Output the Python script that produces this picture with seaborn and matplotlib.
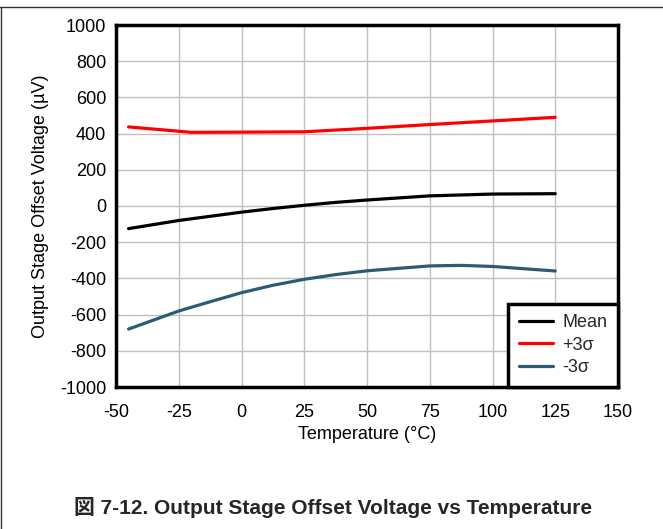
import matplotlib
matplotlib.use("Agg")
import matplotlib.pyplot as plt
import seaborn as sns
import pandas as pd
from matplotlib.lines import Line2D

temp_mean = [-45, -25, -12.5, 0, 12.5, 25, 37.5, 50, 75, 100, 125]
mean_vals = [-125, -80, -57, -34, -14, 4, 20, 33, 56, 66, 68]
temp_plus = [-45, -20, 0, 25, 50, 75, 100, 125]
plus_vals = [437, 407, 408, 410, 429, 450, 470, 490]
temp_minus = [-45, -25, -12.5, 0, 12.5, 25, 37.5, 50, 75, 87.5, 100, 125]
minus_vals = [-680, -580, -529, -479, -438, -405, -379, -358, -331, -328, -334, -359]

series_names = ["Mean", "+3\u03c3", "-3\u03c3"]
series_colors = ["#000000", "#ff0000", "#2e5b74"]
xticks = [-50, -25, 0, 25, 50, 75, 100, 125, 150]
yticks = [-1000, -800, -600, -400, -200, 0, 200, 400, 600, 800, 1000]

df = pd.concat([
    pd.DataFrame({"T": temp_mean, "V": mean_vals, "s": series_names[0]}),
    pd.DataFrame({"T": temp_plus, "V": plus_vals, "s": series_names[1]}),
    pd.DataFrame({"T": temp_minus, "V": minus_vals, "s": series_names[2]}),
])

sns.set_style("white")
plt.rcParams['font.family'] = ['Liberation Sans', 'Noto Sans CJK JP', 'DejaVu Sans']
plt.rcParams['axes.unicode_minus'] = False

fig = plt.figure(figsize=(6.63, 5.29), dpi=100)
ax = fig.add_axes([116/663, 1-387/529, (618-116)/663, (387-25)/529])

sns.lineplot(data=df, x="T", y="V", hue="s", palette=dict(zip(series_names, series_colors)),
             linewidth=2.3, ax=ax, legend=False, sort=True)

ax.set_xlim(-50, 150)
ax.set_ylim(-1000, 1000)
ax.set_xticks(xticks)
ax.set_yticks(yticks)
ax.tick_params(axis="x", labelsize=13, length=0, pad=12, labelcolor="black")
ax.tick_params(axis="y", labelsize=13, length=0, pad=7, labelcolor="black")
ax.grid(True, color="#c0c0c0", linewidth=1)
ax.set_axisbelow(True)
for sp in ax.spines.values():
    sp.set_visible(True)
    sp.set_color("black")
    sp.set_linewidth(2.5)

ax.set_xlabel("Temperature (\u00b0C)", fontsize=13, labelpad=4, color="black")
ax.set_ylabel("Output Stage Offset Voltage (\u00b5V)", fontsize=13, labelpad=8, color="black")

handles = [Line2D([0], [0], color=c, lw=2.3) for c in series_colors]
leg = ax.legend(handles, series_names, loc="lower right", borderaxespad=0, fontsize=13,
                fancybox=False, framealpha=1, edgecolor="black", handlelength=1.9,
                handletextpad=0.5, borderpad=0.6, labelspacing=0.3)
leg.get_frame().set_linewidth(2.5)

fig.text(333/663, 1-508/529, "\u56f3 7-12. Output Stage Offset Voltage vs Temperature",
         ha="center", va="center", fontsize=15, fontweight="bold")

fig.add_artist(Line2D([0, 1], [1-7/529, 1-7/529], color="#333333", lw=1, transform=fig.transFigure))
fig.add_artist(Line2D([1/663, 1/663], [0, 1-7/529], color="#333333", lw=1, transform=fig.transFigure))

fig.savefig("out.png", dpi=100)
